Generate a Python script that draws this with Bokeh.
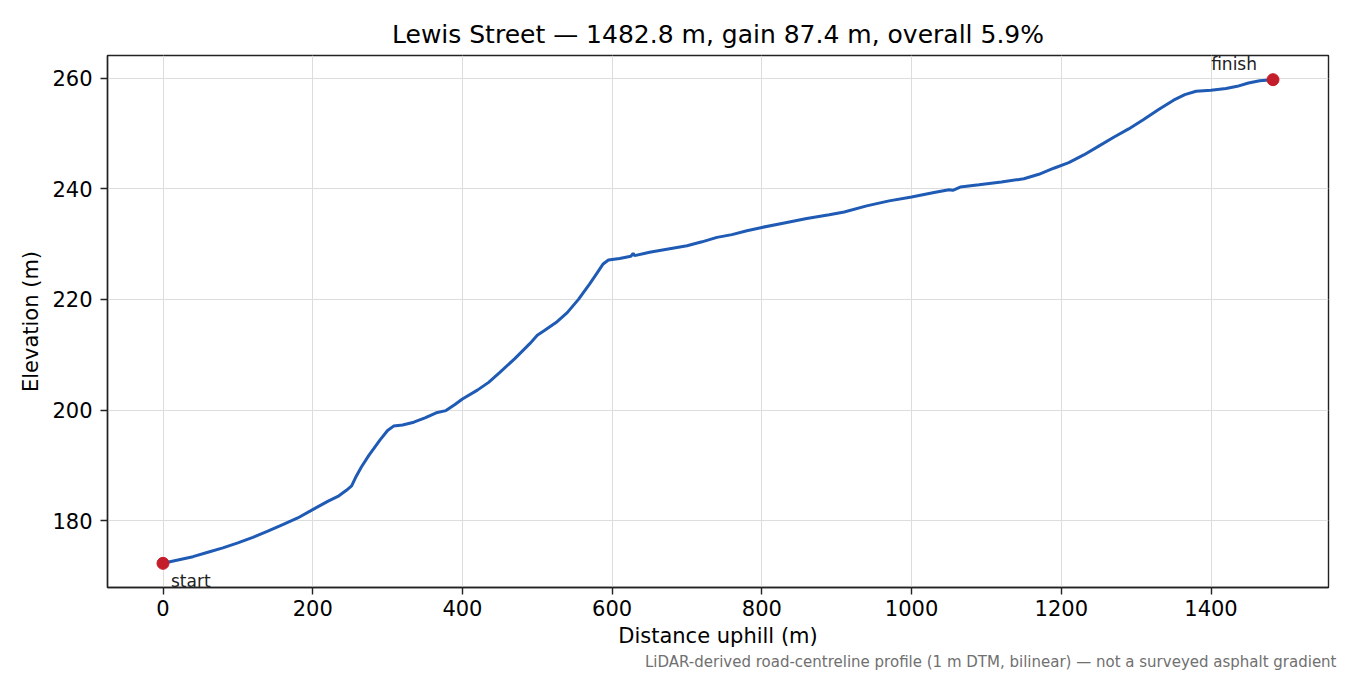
from bokeh.plotting import figure
from bokeh.models import Range1d, FixedTicker, Label, Title
from bokeh.embed import file_html
from bokeh.resources import INLINE

# elevation profile (distance uphill m, elevation m)
distance = [0, 20, 40, 60, 80, 100, 120, 140, 160, 180, 200, 220, 235, 245,
            252, 258, 265, 275, 290, 300, 308, 320, 335, 350, 365, 378, 390,
            400, 420, 435, 450, 470, 490, 500, 510, 525, 540, 555, 570, 580,
            588, 595, 610, 625, 628, 630, 650, 675, 700, 720, 740, 760, 780,
            800, 830, 860, 890, 910, 940, 970, 1000, 1030, 1050, 1055, 1065,
            1090, 1120, 1150, 1170, 1190, 1210, 1230, 1250, 1270, 1290, 1310,
            1330, 1350, 1365, 1380, 1400, 1420, 1435, 1450, 1465, 1482.8]
elevation = [172.3, 172.9, 173.5, 174.3, 175.1, 176.0, 177.0, 178.1, 179.3,
             180.5, 182.0, 183.5, 184.5, 185.5, 186.3, 188.0, 189.7, 191.8,
             194.6, 196.3, 197.1, 197.3, 197.8, 198.6, 199.5, 199.9, 201.0,
             202.0, 203.6, 205.0, 206.8, 209.3, 212.0, 213.5, 214.4, 215.8,
             217.6, 220.0, 222.8, 224.8, 226.4, 227.1, 227.4, 227.8, 228.3,
             227.9, 228.5, 229.1, 229.7, 230.4, 231.2, 231.7, 232.4, 233.0,
             233.8, 234.6, 235.3, 235.8, 236.9, 237.8, 238.5, 239.3, 239.8,
             239.7, 240.3, 240.7, 241.2, 241.8, 242.6, 243.7, 244.7, 246.1,
             247.7, 249.3, 250.8, 252.5, 254.3, 256.0, 257.0, 257.6, 257.8,
             258.1, 258.5, 259.1, 259.5, 259.7]

x_ticks = [0, 200, 400, 600, 800, 1000, 1200, 1400]
y_ticks = [180, 200, 220, 240, 260]

title = "Lewis Street \u2014 1482.8 m, gain 87.4 m, overall 5.9%"
note = ("LiDAR-derived road-centreline profile (1 m DTM, bilinear) "
        "\u2014 not a surveyed asphalt gradient")

FONT = "DejaVu Sans"
LINE = "#1f5bb4"
DOT = "#c41e2a"

# matplotlib-style 5% margins
span_x = distance[-1] - distance[0]
span_y = max(elevation) - min(elevation)
x_range = Range1d(distance[0] - 0.05 * span_x, distance[-1] + 0.05 * span_x)
y_range = Range1d(min(elevation) - 0.05 * span_y, max(elevation) + 0.05 * span_y)

p = figure(width=1342, height=672, x_range=x_range, y_range=y_range,
           output_backend="svg", toolbar_location=None,
           min_border_left=107, min_border_right=14,
           min_border_top=55, min_border_bottom=85)

p.title.text = title
p.title.align = "center"
p.title.text_font = FONT
p.title.text_font_size = "25px"
p.title.text_font_style = "normal"
p.title.text_color = "black"
p.title.standoff = 13

p.outline_line_color = "#222222"
p.outline_line_width = 1.4
p.outline_line_alpha = 1.0

for ax in (p.xaxis, p.yaxis):
    ax.axis_line_color = "#222222"
    ax.axis_line_width = 1.4
    ax.major_tick_in = 0
    ax.major_tick_out = 7
    ax.major_tick_line_color = "#222222"
    ax.major_tick_line_width = 1.4
    ax.minor_tick_line_color = None
    ax.major_label_text_font = FONT
    ax.major_label_text_font_size = "21px"
    ax.major_label_text_color = "black"
    ax.axis_label_text_font = FONT
    ax.axis_label_text_font_size = "21px"
    ax.axis_label_text_font_style = "normal"
    ax.axis_label_text_color = "black"

p.xaxis.ticker = FixedTicker(ticks=x_ticks)
p.yaxis.ticker = FixedTicker(ticks=y_ticks)
p.xaxis.axis_label = "Distance uphill (m)"
p.yaxis.axis_label = "Elevation (m)"
p.xaxis.major_label_standoff = 5
p.yaxis.major_label_standoff = 8
p.xaxis.axis_label_standoff = 5
p.yaxis.axis_label_standoff = 6

p.grid.grid_line_color = "#dddddd"
p.grid.grid_line_width = 1

p.line(distance, elevation, line_color=LINE, line_width=3)
p.scatter([distance[0], distance[-1]], [elevation[0], elevation[-1]],
          size=12, fill_color=DOT, line_color=DOT)

p.add_layout(Label(x=distance[0], y=elevation[0], text="start",
                   x_offset=8, y_offset=-18, text_font=FONT,
                   text_font_size="17px", text_color="#222222",
                   text_baseline="alphabetic", level="overlay"))
p.add_layout(Label(x=distance[-1], y=elevation[-1], text="finish",
                   x_offset=-16, y_offset=16, text_align="right",
                   text_font=FONT, text_font_size="17px",
                   text_color="#222222", text_baseline="alphabetic",
                   level="overlay"))

# footnote below the axis, right-aligned a little past the frame
foot = Title(text=note, align="right", offset=-8, standoff=0,
             text_font=FONT, text_font_size="15px",
             text_font_style="normal", text_color="#707070")
p.add_layout(foot, "below")

open("out.html", "w").write(file_html(p, INLINE))
